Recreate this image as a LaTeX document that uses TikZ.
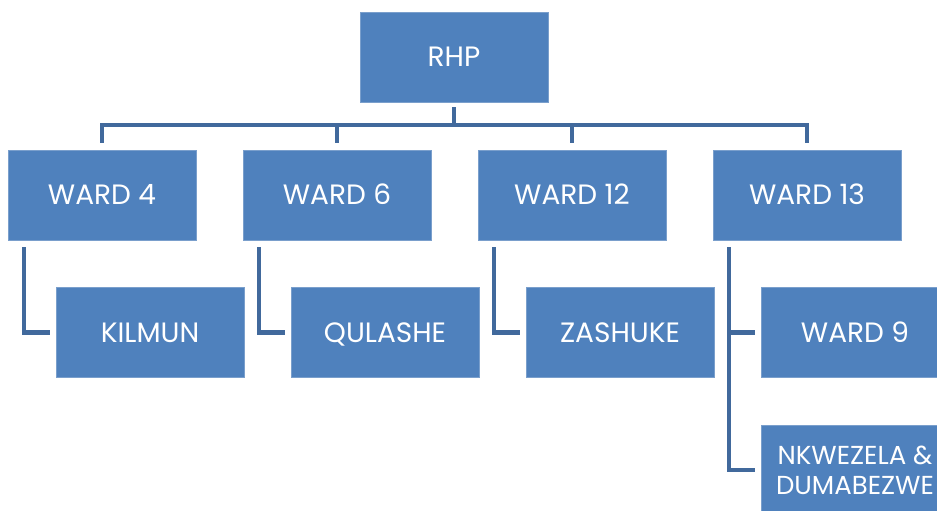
\documentclass[tikz,border=0pt]{standalone}
\usepackage{fontspec}
\setmainfont{Poppins}
\definecolor{boxblue}{HTML}{4F81BD}
\definecolor{boxedge}{HTML}{7A9FCC}
\definecolor{lineblue}{HTML}{41699C}
\tikzset{
  unit/.style={draw=boxedge, line width=0.6pt, fill=boxblue, text=white,
    minimum width=188pt, minimum height=90pt, inner sep=0pt,
    text height=19.5pt, text depth=0pt,
    font=\fontsize{28}{32}\selectfont},
  link/.style={draw=lineblue, line width=4.5pt, line join=miter}
}
\begin{document}
\begin{tikzpicture}[x=1pt,y=-1pt]
   \useasboundingbox (0,0) rectangle (937,511);
   \clip (0,0) rectangle (937,511);
   % top and ward level
   \node[unit] (rhp) at (454,57) {RHP};
   \node[unit] (w4) at (102,195) {WARD 4};
   \node[unit] (w6) at (337,195) {WARD 6};
   \node[unit] (w12) at (572,195) {WARD 12};
   \node[unit] (w13) at (807,195) {WARD 13};
   % lower level
   \node[unit] (kilmun) at (150,332.5) {KILMUN};
   \node[unit] (qulashe) at (385,332.5) {QULASHE};
   \node[unit] (zashuke) at (620,332.5) {ZASHUKE};
   \node[unit] (ward9) at (855,332.5) {WARD 9};
   \node[unit, align=center, text height=48pt, font=\fontsize{26}{30}\selectfont] (nkw) at (855,470) {NKWEZELA \&\\DUMABEZWE};
   % connectors
   \coordinate (bus) at (454,125);
   \draw[link, shorten <=5pt] (rhp.south) -- (bus);
   \foreach \w in {w4,w6,w12,w13}
     \draw[link, shorten >=7pt] (bus) -| (\w.north);
   \draw[link, shorten <=7pt, shorten >=6pt] ([xshift=-78pt]w4.south) |- (kilmun.west);
   \draw[link, shorten <=7pt, shorten >=6pt] ([xshift=-78pt]w6.south) |- (qulashe.west);
   \draw[link, shorten <=7pt, shorten >=6pt] ([xshift=-78pt]w12.south) |- (zashuke.west);
   \draw[link, shorten <=7pt, shorten >=6pt] ([xshift=-78pt]w13.south) |- (ward9.west);
   \draw[link, shorten <=7pt, shorten >=6pt] ([xshift=-78pt]w13.south) |- (nkw.west);
  \end{tikzpicture}
\end{document}
